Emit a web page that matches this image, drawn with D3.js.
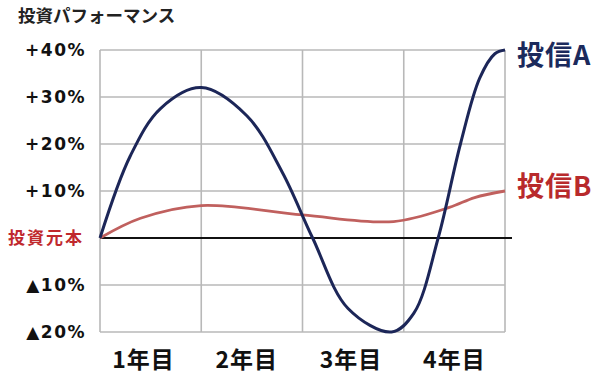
<!DOCTYPE html>
<html>
<head>
<meta charset="utf-8">
<script src="https://cdn.jsdelivr.net/npm/d3@7"></script>
<style>
  body { margin: 0; background: #fff; }
  svg { display: block; }
  .ytick { font-family: "DejaVu Sans", sans-serif; font-weight: bold; font-size: 17px; letter-spacing: 1.5px; fill: #111; }
  .jp { font-family: "Noto Sans CJK JP", sans-serif; font-weight: bold; }
</style>
</head>
<body>
<svg id="chart" width="600" height="375"></svg>
<script>
// years since purchase (0..4) and performance in %
const fundA = [
  [0, 0], [0.3, 17.5], [0.6, 27.6], [1.0, 32], [1.45, 26], [1.8, 14],
  [2.1, 0], [2.45, -15], [2.88, -20], [3.1, -16], [3.34, 0],
  [3.56, 20], [3.75, 34], [3.9, 39.2], [4.0, 40],
];
const fundB = [
  [0, 0], [0.4, 4.2], [1.0, 6.9], [2.0, 4.9], [2.9, 3.5], [3.45, 6.5],
  [3.7, 8.6], [4.0, 10],
];
const yTicks = [40, 30, 20, 10, 0, -10, -20];
const yearLabels = ["1年目", "2年目", "3年目", "4年目"];
const yearLabelPos = [0.43, 1.45, 2.48, 3.5];
const yearGrid = [0, 1, 2, 3, 4];
const seriesNames = ["投信A", "投信B"];
const seriesEnd = [40, 10];
const colors = ["#1c2658", "#c0605e"];
const legendColors = ["#1b2a5c", "#b82a2c"];

const svg = d3.select("#chart");
const x = d3.scaleLinear().domain([0, 4]).range([100, 505]);
const y = d3.scaleLinear().domain([-20, 40]).range([332, 50]);

// grid
svg.append("g")
  .selectAll("line")
  .data(yTicks.filter((d) => d !== 0))
  .join("line")
  .attr("x1", x(0)).attr("x2", x(4))
  .attr("y1", (d) => y(d)).attr("y2", (d) => y(d))
  .attr("stroke", "#b8b8b8").attr("stroke-width", 1.6);

svg.append("g")
  .selectAll("line")
  .data(yearGrid)
  .join("line")
  .attr("x1", (d) => x(d)).attr("x2", (d) => x(d))
  .attr("y1", y(40)).attr("y2", y(-20))
  .attr("stroke", "#b8b8b8").attr("stroke-width", 1.6);

// principal line
svg.append("line")
  .attr("x1", x(0)).attr("x2", 512)
  .attr("y1", y(0)).attr("y2", y(0))
  .attr("stroke", "#111").attr("stroke-width", 2);

// y labels
const fmt = (d) => (d > 0 ? `+${d}%` : `▲${-d}%`);
svg.append("g")
  .selectAll("text")
  .data(yTicks)
  .join("text")
  .attr("class", (d) => (d === 0 ? "jp" : "ytick"))
  .attr("x", (d) => (d === 0 ? 84 : 86))
  .attr("y", (d) => y(d))
  .attr("dy", "0.36em")
  .attr("text-anchor", "end")
  .style("font-size", (d) => (d === 0 ? "17px" : null))
  .style("letter-spacing", (d) => (d === 0 ? "2px" : null))
  .style("fill", (d) => (d === 0 ? "#c0282d" : null))
  .text((d) => (d === 0 ? "投資元本" : fmt(d)));

// x labels
svg.append("g")
  .selectAll("text")
  .data(yearLabels)
  .join("text")
  .attr("class", "jp")
  .attr("x", (d, i) => x(yearLabelPos[i]))
  .attr("y", 368)
  .attr("text-anchor", "middle")
  .style("font-size", "23px")
  .style("letter-spacing", "1px")
  .style("fill", "#111")
  .text((d) => d);

// title
svg.append("text")
  .attr("class", "jp")
  .attr("x", 18).attr("y", 22)
  .style("font-size", "17.5px")
  .style("fill", "#222")
  .text("投資パフォーマンス");

// lines
const line = d3.line()
  .x((d) => x(d[0]))
  .y((d) => y(d[1]))
  .curve(d3.curveCatmullRom.alpha(0.5));

[fundB, fundA].forEach((data, k) => {
  const i = k === 0 ? 1 : 0;
  svg.append("path")
    .datum(data)
    .attr("fill", "none")
    .attr("stroke", colors[i])
    .attr("stroke-width", i === 0 ? 3 : 2.8)
    .attr("stroke-linejoin", "round")
    .attr("d", line);
});

// series labels
svg.append("g")
  .selectAll("text")
  .data(seriesNames)
  .join("text")
  .attr("class", "jp")
  .attr("x", 517)
  .attr("y", (d, i) => y(seriesEnd[i]) + (i === 0 ? 5 : -5))
  .attr("dy", "0.36em")
  .style("font-size", "27px")
  .style("letter-spacing", "1px")
  .style("fill", (d, i) => legendColors[i])
  .text((d) => d);
</script>
</body>
</html>
